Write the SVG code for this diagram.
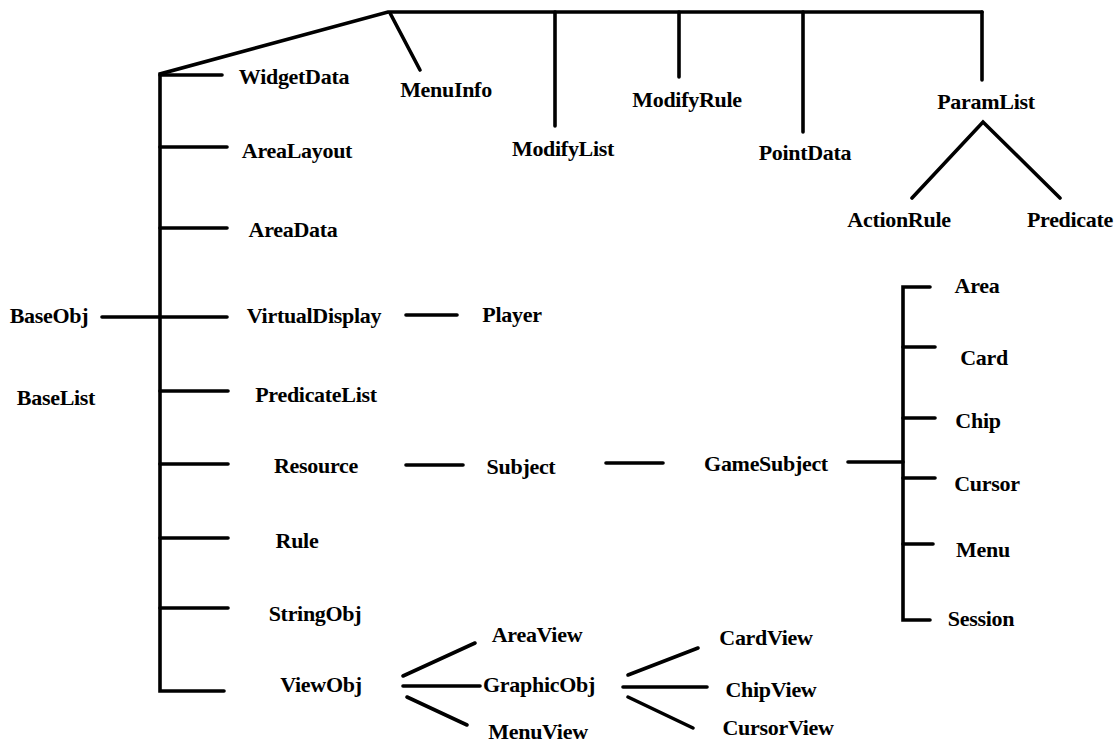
<svg xmlns="http://www.w3.org/2000/svg" width="1120" height="746" viewBox="0 0 1120 746">
  <style>
    .bg { fill: #ffffff; }
    .ln { fill: none; stroke: #000000; stroke-width: 3.6; stroke-linecap: round; stroke-linejoin: miter; }
    .lbl { font-family: "Liberation Serif", "Times New Roman", serif; font-size: 22px; font-weight: bold; fill: #000000; text-anchor: middle; letter-spacing: -0.3px; }
  </style>
  <rect class="bg" x="0" y="0" width="1120" height="746"/>

  <!-- class hierarchy connectors -->
  <g id="connectors">
    <!-- main trunk: top bar, slanted shoulder and left vertical -->
    <polyline class="ln" points="982,12 388,12 160,74 160,691 224,691"/>
    <line class="ln" x1="160" y1="75" x2="222" y2="75"/>
    <line class="ln" x1="160" y1="147" x2="227" y2="147"/>
    <line class="ln" x1="160" y1="228" x2="227" y2="228"/>
    <line class="ln" x1="102" y1="317" x2="227" y2="317"/>
    <line class="ln" x1="160" y1="391" x2="228" y2="391"/>
    <line class="ln" x1="160" y1="464" x2="228" y2="464"/>
    <line class="ln" x1="160" y1="538" x2="228" y2="538"/>
    <line class="ln" x1="160" y1="608" x2="228" y2="608"/>

    <!-- drops from the top bar -->
    <line class="ln" x1="390" y1="13" x2="420" y2="70"/>
    <line class="ln" x1="555" y1="12" x2="555" y2="126"/>
    <line class="ln" x1="679" y1="12" x2="679" y2="77"/>
    <line class="ln" x1="803" y1="12" x2="803" y2="132"/>
    <line class="ln" x1="982" y1="12" x2="982" y2="80"/>

    <!-- ParamList fork -->
    <polyline class="ln" points="912,198 983,122 1060,198"/>

    <!-- middle chain -->
    <line class="ln" x1="406" y1="315" x2="457" y2="315"/>
    <line class="ln" x1="406" y1="465" x2="463" y2="465"/>
    <line class="ln" x1="606" y1="463" x2="663" y2="463"/>
    <line class="ln" x1="848" y1="462" x2="903" y2="462"/>

    <!-- GameSubject bracket -->
    <polyline class="ln" points="930,287 903,287 903,620 930,620"/>
    <line class="ln" x1="903" y1="347" x2="935" y2="347"/>
    <line class="ln" x1="903" y1="418" x2="935" y2="418"/>
    <line class="ln" x1="903" y1="478" x2="935" y2="478"/>
    <line class="ln" x1="903" y1="544" x2="933" y2="544"/>

    <!-- ViewObj fork -->
    <line class="ln" x1="403" y1="676" x2="475" y2="643"/>
    <line class="ln" x1="403" y1="686" x2="480" y2="686"/>
    <line class="ln" x1="407" y1="697" x2="467" y2="725"/>

    <!-- GraphicObj fork -->
    <line class="ln" x1="628" y1="675" x2="698" y2="648"/>
    <line class="ln" x1="623" y1="687" x2="707" y2="687"/>
    <line class="ln" x1="628" y1="697" x2="693" y2="728"/>
  </g>

  <!-- class nodes -->
  <g id="BaseObj"><text class="lbl" x="49" y="323">BaseObj</text></g>
  <g id="BaseList"><text class="lbl" x="56" y="405">BaseList</text></g>

  <g id="WidgetData"><text class="lbl" x="294" y="84">WidgetData</text></g>
  <g id="AreaLayout"><text class="lbl" x="297" y="158">AreaLayout</text></g>
  <g id="AreaData"><text class="lbl" x="293" y="237">AreaData</text></g>
  <g id="VirtualDisplay"><text class="lbl" x="314" y="323">VirtualDisplay</text></g>
  <g id="PredicateList"><text class="lbl" x="316" y="402">PredicateList</text></g>
  <g id="Resource"><text class="lbl" x="316" y="473">Resource</text></g>
  <g id="Rule"><text class="lbl" x="297" y="548">Rule</text></g>
  <g id="StringObj"><text class="lbl" x="315" y="621">StringObj</text></g>
  <g id="ViewObj"><text class="lbl" x="321" y="692">ViewObj</text></g>

  <g id="MenuInfo"><text class="lbl" x="446" y="97">MenuInfo</text></g>
  <g id="ModifyList"><text class="lbl" x="563" y="156">ModifyList</text></g>
  <g id="ModifyRule"><text class="lbl" x="687" y="107">ModifyRule</text></g>
  <g id="PointData"><text class="lbl" x="805" y="160">PointData</text></g>
  <g id="ParamList"><text class="lbl" x="986" y="109">ParamList</text></g>
  <g id="ActionRule"><text class="lbl" x="899" y="227">ActionRule</text></g>
  <g id="Predicate"><text class="lbl" x="1070" y="227">Predicate</text></g>

  <g id="Player"><text class="lbl" x="512" y="322">Player</text></g>
  <g id="Subject"><text class="lbl" x="521" y="474">Subject</text></g>
  <g id="GameSubject"><text class="lbl" x="766" y="471">GameSubject</text></g>

  <g id="Area"><text class="lbl" x="977" y="293">Area</text></g>
  <g id="Card"><text class="lbl" x="984" y="365">Card</text></g>
  <g id="Chip"><text class="lbl" x="978" y="428">Chip</text></g>
  <g id="Cursor"><text class="lbl" x="987" y="491">Cursor</text></g>
  <g id="Menu"><text class="lbl" x="983" y="557">Menu</text></g>
  <g id="Session"><text class="lbl" x="981" y="626">Session</text></g>

  <g id="AreaView"><text class="lbl" x="537" y="642">AreaView</text></g>
  <g id="GraphicObj"><text class="lbl" x="539" y="692">GraphicObj</text></g>
  <g id="MenuView"><text class="lbl" x="538" y="739">MenuView</text></g>
  <g id="CardView"><text class="lbl" x="766" y="645">CardView</text></g>
  <g id="ChipView"><text class="lbl" x="771" y="697">ChipView</text></g>
  <g id="CursorView"><text class="lbl" x="778" y="735">CursorView</text></g>
</svg>
